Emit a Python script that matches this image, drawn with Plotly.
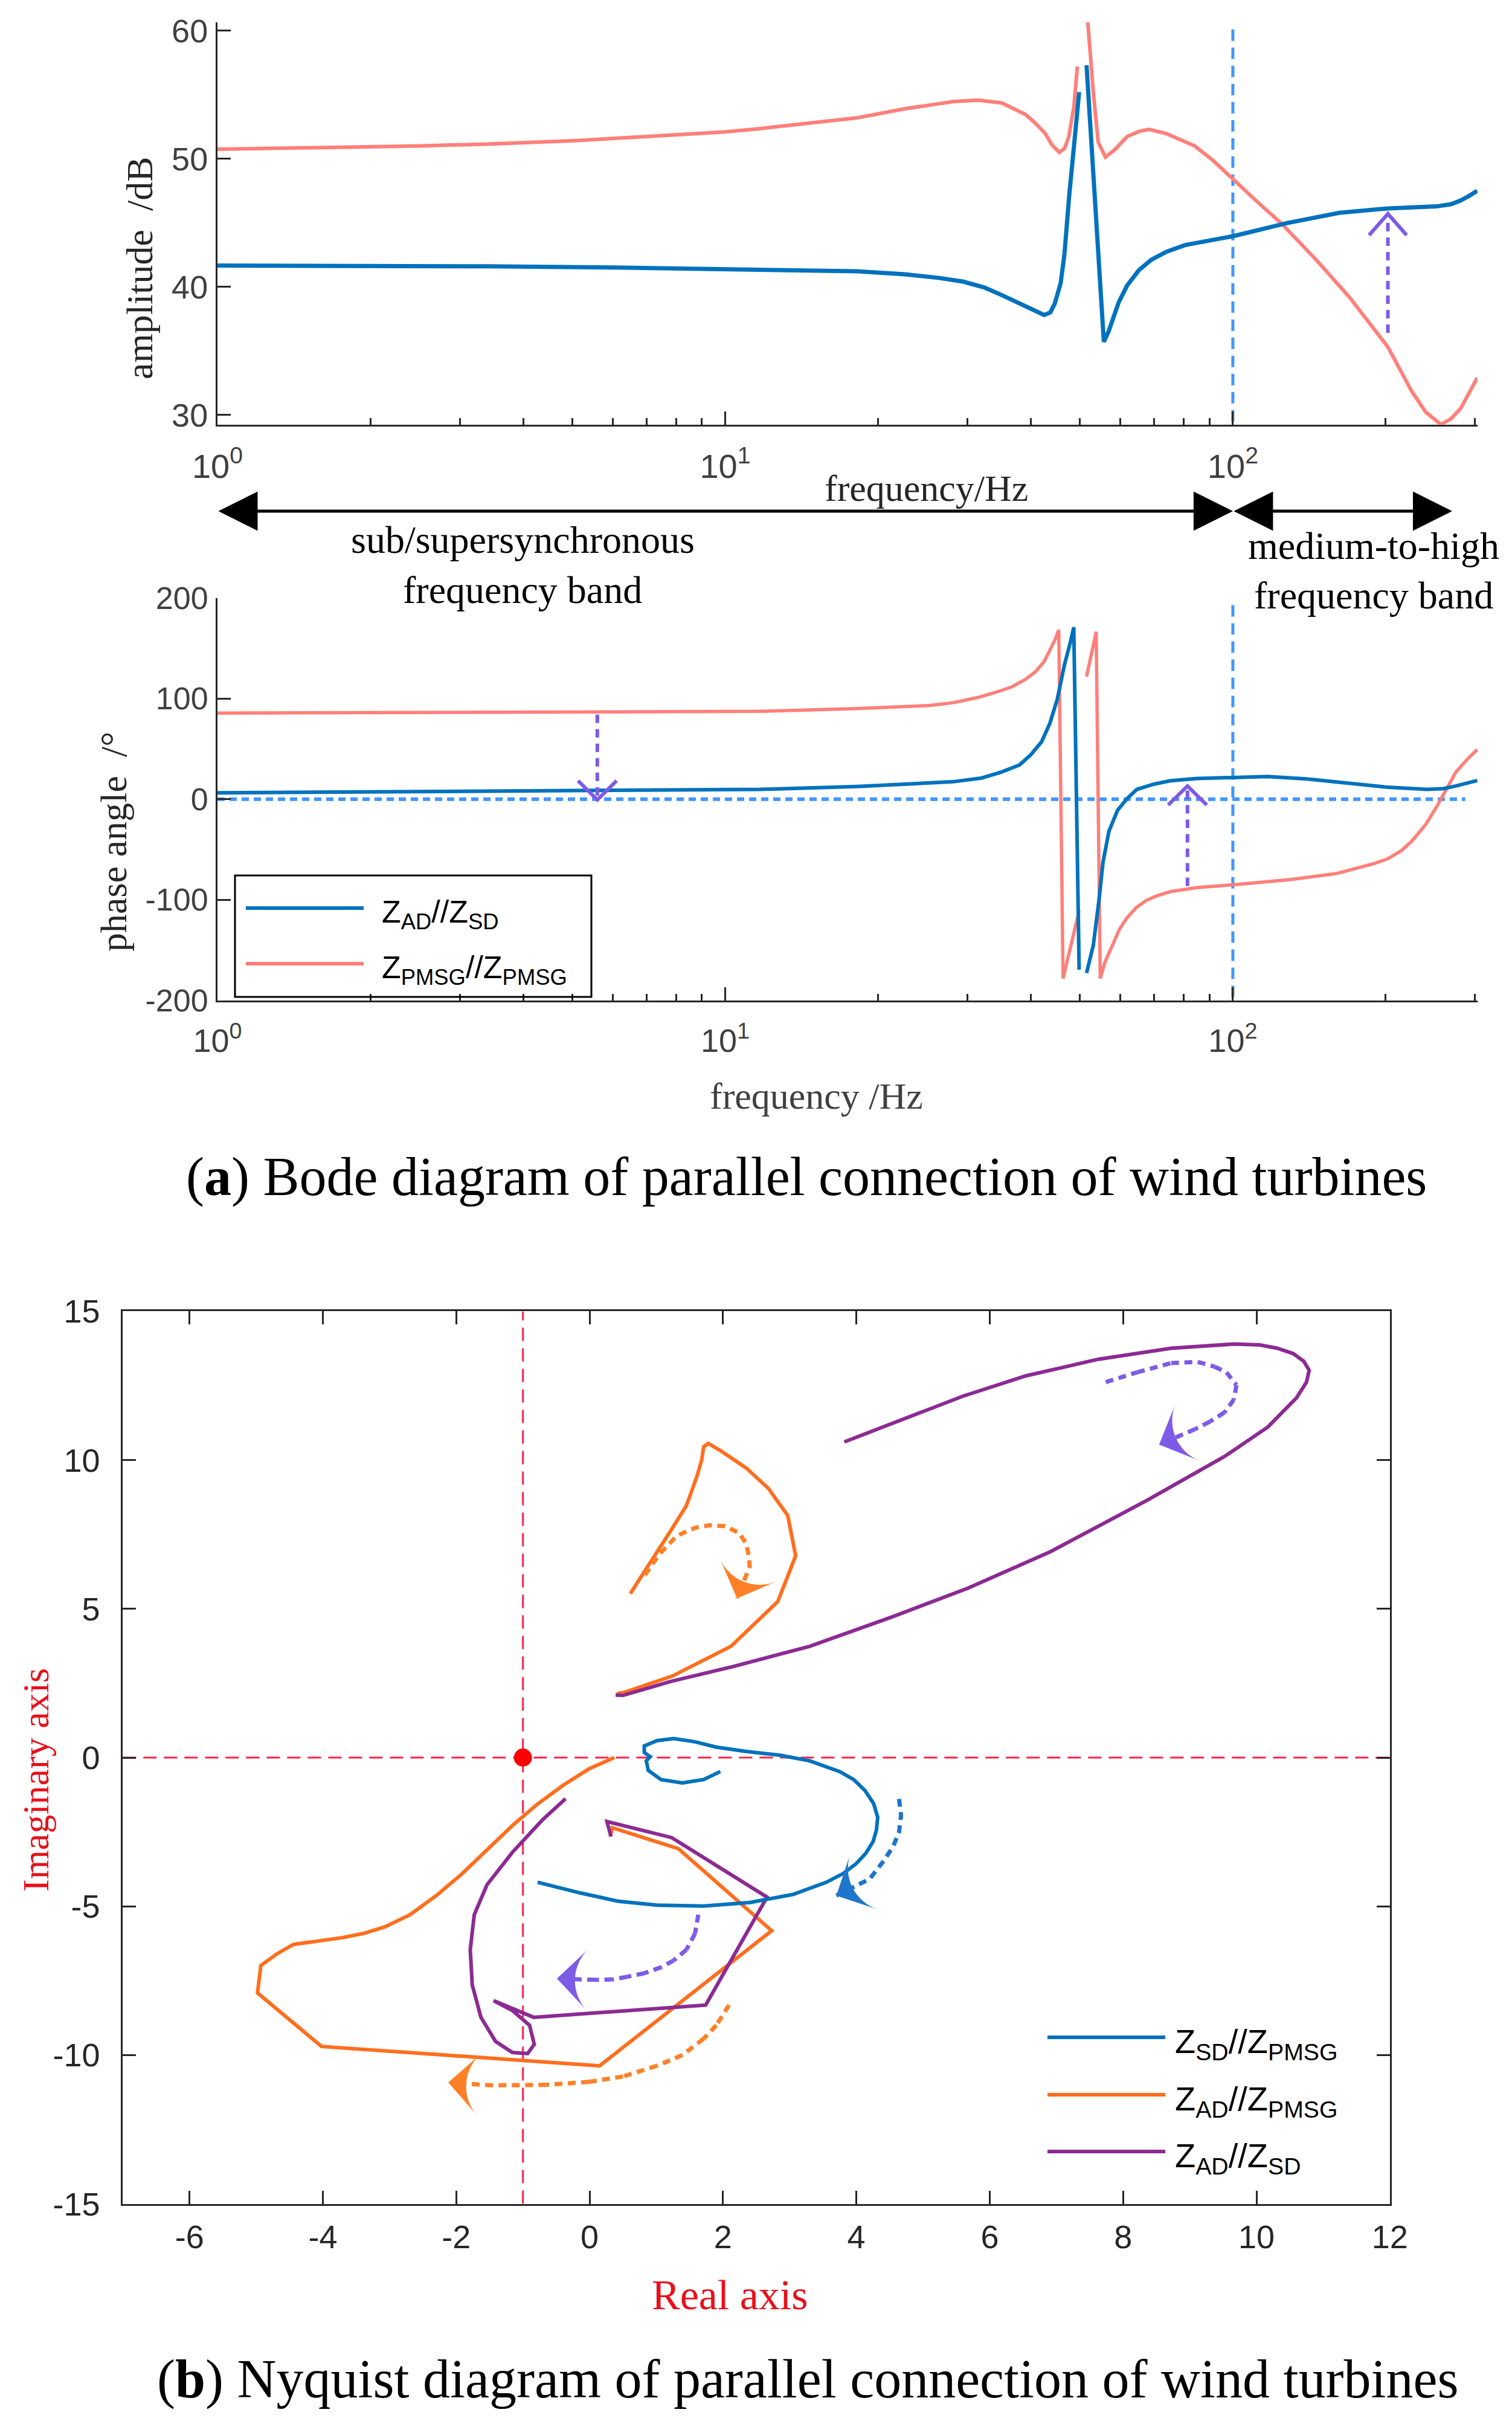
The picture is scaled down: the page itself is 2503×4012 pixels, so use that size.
import plotly.graph_objects as go

W, H = 2503, 4012
def px(x): return x / W
def py(y): return 1 - y / H

# ---------------- Bode magnitude data (Hz, dB) ----------------
mag_f_ad_sd = [1.0, 2.0, 3.39, 6.31, 11.7, 18.2, 22.6, 26.3, 29.4, 32.4, 35.0, 39.1, 42.5, 43.7, 44.6,
               45.8, 46.6, 47.6, 48.5, 49.8, None, 51.5, 53.7, 55.0, 55.7, 56.9, 57.9, 59.6, 61.9, 65.3,
               69.0, 74.1, 80.5, 100, 128, 162, 202, 252, 269, 281, 292, 303]
mag_db_ad_sd = [41.66, 41.65, 41.6, 41.5, 41.34, 41.21, 40.98, 40.7, 40.41, 39.95, 39.37, 38.47, 37.8, 38.0, 38.7,
                40.3, 42.6, 47.1, 50.6, 55.2, None, 57.3, 46.0, 39.0, 35.7, 36.5, 37.3, 38.8, 40.1, 41.3,
                42.1, 42.75, 43.26, 43.95, 44.98, 45.78, 46.12, 46.28, 46.45, 46.74, 47.1, 47.5]

mag_f_pmsg = [1.0, 1.585, 2.51, 3.39, 5.01, 7.08, 10.0, 11.7, 18.2, 22.6, 28.2, 31.5, 35.1, 39.1, 40.9,
              42.7, 44.1, 45.5, 46.6, 47.5, 48.6, 49.4, None, 51.6, 53.1, 54.3, 56.1, 58.5, 61.9, 65.5,
              68.4, 74.1, 84.1, 91.2, 100, 112, 125, 146, 170, 202, 225, 240, 257, 269, 281, 303]
mag_db_pmsg = [50.74, 50.85, 51.0, 51.15, 51.4, 51.75, 52.1, 52.35, 53.2, 53.9, 54.47, 54.58, 54.35, 53.44, 52.75,
               51.97, 51.04, 50.5, 50.8, 51.7, 54.0, 57.2, None, 61.5, 55.2, 51.3, 50.13, 50.7, 51.73, 52.15,
               52.3, 51.95, 51.0, 49.9, 48.4, 46.6, 44.9, 42.1, 39.15, 35.3, 31.85, 30.2, 29.25, 29.7, 30.5, 32.9]

# ---------------- Bode phase data (Hz, deg) ----------------
ph_f_ad_sd = [1.0, 3.16, 11.7, 18.2, 28.1, 32.0, 35.0, 38.0, 40.0, 42.0, 43.6, 45.1, 46.6, 47.8, 48.6, 49.8, None,
              51.5, 53.1, 54.5, 55.5, 57.0, 59.3, 62.0, 64.7, 70.0, 75.3, 85.0, 100, 117, 140, 162, 200, 241,
              260, 275, 303]
ph_deg_ad_sd = [6.25, 7.5, 9.7, 12.5, 17.3, 21.0, 26.9, 34.0, 44.1, 57.0, 75.2, 99.3, 133.8, 155.0, 171.0, -169.6, None,
                -173.0, -145.5, -100.0, -62.5, -32.0, -10.9, 1.0, 9.7, 15.0, 18.3, 20.5, 21.7, 22.4, 20.0, 16.7, 12.0,
                9.7, 10.5, 13.1, 18.5]

ph_f_pmsg = [1.0, 3.16, 10.0, 11.7, 18.2, 25.2, 28.2, 31.4, 34.0, 36.6, 39.0, 40.9, 42.5, 43.6, 44.6, 45.4,
             46.3, 49.8, None,
             51.5, 53.8, 54.8, 56.0, 57.9, 59.7, 61.9, 64.5, 67.6, 71.0, 75.3, 85.0, 100, 130, 160, 173, 190,
             202, 215, 225, 240, 252, 263, 275, 290, 303]
ph_deg_pmsg = [85.5, 86.0, 87.0, 87.3, 90.0, 93.1, 96.0, 101.0, 106.0, 111.4, 119.0, 126.9, 137.0, 147.6, 158.0,
               168.3, -178.3, -111.0, None,
               121.8, 166.5, -178.3, -162.0, -145.5, -130.0, -117.8, -108.0, -100.6, -96.0, -92.0, -88.0, -85.2,
               -80.0, -74.0, -69.6, -64.0, -59.3, -51.0, -42.0, -25.0, -7.6, 10.0, 26.9, 40.0, 49.3]

# reference lines / arrows in Bode plots
f_split = 100                     # boundary between the two bands (Hz)
mag_vline_db = [60.1, 29.25]
ph_vline_deg = [193, -200]
ph_zero_f = [1.0, 287]
mag_arrow = dict(f=202, y_from=36.4, y_to=45.7)
ph_arrow_down = dict(f=5.6, y_from=84, y_to=-0.7)
ph_arrow_up = dict(f=81.4, y_from=-86.5, y_to=13.1)

# ---------------- Nyquist data ----------------
nyq_sd_pmsg_re = [1.96, 1.71, 1.39, 1.07, 0.88, 0.85, 0.91, 0.82, 0.82, 1.01, 1.26, 1.58, 1.90, 2.34, 2.85,
                  3.30, 3.75, 3.96, 4.13, 4.26, 4.32, 4.30, 4.25, 4.14, 4.00, 3.80, 3.55, 3.05, 2.41, 1.71,
                  1.01, 0.43, -0.14, -0.78]
nyq_sd_pmsg_im = [-0.47, -0.74, -0.85, -0.74, -0.43, -0.11, 0.03, 0.17, 0.39, 0.57, 0.64, 0.53, 0.35, 0.21, 0.08,
                  -0.11, -0.47, -0.74, -1.11, -1.55, -2.01, -2.45, -2.83, -3.22, -3.56, -3.90, -4.19, -4.60,
                  -4.87, -4.99, -4.96, -4.83, -4.55, -4.19]

nyq_ad_pmsg_re = [0.61, 0.94, 1.22, 1.45, 1.61, 1.68, 1.71, 1.78, 1.96, 2.35, 2.68, 2.97, 3.09, 2.82, 2.12,
                  1.24, 0.53, 0.41, None,
                  0.37, -0.01, -0.39, -0.78, -1.16, -1.54, -1.92, -2.30, -2.69, -3.07, -3.39, -3.70, -4.15,
                  -4.44, -4.69, -4.93, -4.98, -4.02, 0.15, 2.73, 1.33, 0.34, 0.31]
nyq_ad_pmsg_im = [5.51, 6.64, 7.64, 8.46, 9.46, 10.0, 10.45, 10.56, 10.32, 9.73, 9.05, 8.14, 6.78, 5.24, 3.74,
                  2.74, 2.20, 2.15, None,
                  0.0, -0.38, -0.92, -1.56, -2.29, -3.10, -3.92, -4.64, -5.28, -5.69, -5.91, -6.05, -6.19,
                  -6.28, -6.60, -6.99, -7.91, -9.71, -10.36, -5.82, -3.06, -2.36, -2.65]

nyq_ad_sd_re = [3.82, 4.73, 5.60, 6.54, 7.63, 8.72, 9.66, 10.05, 10.31, 10.55, 10.71, 10.79, 10.75, 10.60, 10.17,
                9.52, 8.36, 6.91, 5.67, 4.55, 3.30, 2.15, 1.22, 0.50, 0.39, None,
                -0.36, -0.71, -1.16, -1.54, -1.73, -1.79, -1.76, -1.63, -1.41, -1.16, -0.93, -0.83, -0.90,
                -1.16, -1.44, -0.84, 1.74, 2.66, 1.23, 0.26, 0.32]
nyq_ad_sd_im = [10.61, 11.41, 12.15, 12.83, 13.39, 13.76, 13.90, 13.87, 13.76, 13.58, 13.32, 13.02, 12.62, 12.09, 11.11,
                10.12, 8.65, 6.92, 5.69, 4.74, 3.74, 3.06, 2.56, 2.09, 2.10, None,
                -1.38, -2.10, -3.19, -4.28, -5.28, -6.46, -7.64, -8.73, -9.54, -9.91, -9.95, -9.64, -9.00,
                -8.50, -8.17, -8.73, -8.32, -4.69, -2.69, -2.15, -2.65]

# direction arrows (dotted path, last point = arrow tip)
arr_or_up_re = [0.83, 1.04, 1.31, 1.59, 1.80, 2.03, 2.24, 2.35, 2.39, 2.40, 2.21]
arr_or_up_im = [6.14, 6.82, 7.46, 7.73, 7.81, 7.78, 7.55, 7.19, 6.73, 6.42, 5.35]
arr_pu_up_re = [7.74, 8.21, 8.72, 9.12, 9.37, 9.55, 9.70, 9.66, 9.52, 9.30, 9.08, 8.54]
arr_pu_up_im = [12.62, 12.95, 13.26, 13.30, 13.14, 12.95, 12.52, 12.03, 11.60, 11.29, 11.04, 10.52]
arr_bl_re = [4.64, 4.67, 4.64, 4.55, 4.40, 4.20, 3.70]
arr_bl_im = [-1.39, -1.95, -2.50, -3.00, -3.50, -4.08, -4.64]
arr_pu_lo_re = [1.63, 1.58, 1.45, 1.26, 1.07, 0.82, 0.56, 0.34, 0.08, -0.49]
arr_pu_lo_im = [-5.28, -5.92, -6.46, -6.82, -7.05, -7.25, -7.37, -7.46, -7.47, -7.43]
arr_or_lo_re = [2.09, 1.90, 1.71, 1.39, 1.01, 0.50, -0.01, -0.65, -1.45, -2.12]
arr_or_lo_im = [-8.32, -9.0, -9.45, -10.0, -10.36, -10.72, -10.9, -11.0, -11.02, -10.92]

critical_re, critical_im = [-1], [0]

mag_ticks = [30, 40, 50, 60]
mag_ticktext = ["30", "40", "50", "60"]
ph_ticks = [-200, -100, 0, 100, 200]
ph_ticktext = ["-200", "-100", "0", "100", "200"]
f_major = [1, 10, 100]
f_major_text = ["10<sup>0</sup>", "10<sup>1</sup>", "10<sup>2</sup>"]
f_minor = [2, 3, 4, 5, 6, 7, 8, 9, 20, 30, 40, 50, 60, 70, 80, 90, 200, 300]
nyq_xticks = [-6, -4, -2, 0, 2, 4, 6, 8, 10, 12]
nyq_xticktext = ["-6", "-4", "-2", "0", "2", "4", "6", "8", "10", "12"]
nyq_yticks = [-15, -10, -5, 0, 5, 10, 15]
nyq_yticktext = ["-15", "-10", "-5", "0", "5", "10", "15"]

# ---------------- styles ----------------
SERIF = "Liberation Serif, Times New Roman, serif"
SANS = "Liberation Sans, Arial, sans-serif"
AX = "#262626"
GRAY = "#404040"
BLUE = "#0072BD"
SALMON = "#FF7F7A"
LBLUE = "#4096FF"
VIOLET = "#7D5BE6"
ORANGE = "#FF6E1E"
PURPLE = "#8C2A93"
ORANGE_L = "#FF8026"
BLUE_D = "#1F74CC"
REDL = "#FF2248"
RED = "#E8101A"

fig = go.Figure()

def add(tr, xa, ya):
    tr.update(xaxis=xa, yaxis=ya, showlegend=False, hoverinfo="skip")
    fig.add_trace(tr)

# ---- magnitude plot ----
add(go.Scatter(x=[f_split, f_split], y=mag_vline_db, mode="lines",
               line=dict(color=LBLUE, width=5, dash="19px,11px")), "x", "y")
add(go.Scatter(x=mag_f_pmsg, y=mag_db_pmsg, mode="lines", connectgaps=False,
               line=dict(color=SALMON, width=6)), "x", "y")
add(go.Scatter(x=mag_f_ad_sd, y=mag_db_ad_sd, mode="lines", connectgaps=False,
               line=dict(color=BLUE, width=7)), "x", "y")

def chevron(a, xa, ya, dlog, dy):
    f = a["f"]; tip = a["y_to"]
    sgn = 1 if a["y_to"] > a["y_from"] else -1
    add(go.Scatter(x=[f, f], y=[a["y_from"], tip], mode="lines",
                   line=dict(color=VIOLET, width=6, dash="14px,10px")), xa, ya)
    add(go.Scatter(x=[f * 10 ** (-dlog), f, f * 10 ** dlog],
                   y=[tip - sgn * dy, tip, tip - sgn * dy], mode="lines",
                   line=dict(color=VIOLET, width=6)), xa, ya)

chevron(mag_arrow, "x", "y", 0.037, 1.67)

# ---- phase plot ----
add(go.Scatter(x=ph_zero_f, y=[0, 0], mode="lines",
               line=dict(color=LBLUE, width=6, dash="12px,8px")), "x2", "y2")
add(go.Scatter(x=[f_split, f_split], y=ph_vline_deg, mode="lines",
               line=dict(color=LBLUE, width=5, dash="19px,11px")), "x2", "y2")
add(go.Scatter(x=ph_f_pmsg, y=ph_deg_pmsg, mode="lines", connectgaps=False,
               line=dict(color=SALMON, width=5.5)), "x2", "y2")
add(go.Scatter(x=ph_f_ad_sd, y=ph_deg_ad_sd, mode="lines", connectgaps=False,
               line=dict(color=BLUE, width=6)), "x2", "y2")
chevron(ph_arrow_down, "x2", "y2", 0.038, 19)
chevron(ph_arrow_up, "x2", "y2", 0.038, 19)

# ---- Nyquist ----
add(go.Scatter(x=[-1, -1], y=[-15, 15], mode="lines",
               line=dict(color=REDL, width=3, dash="22px,12px")), "x3", "y3")
add(go.Scatter(x=[-7, 12], y=[0, 0], mode="lines",
               line=dict(color=REDL, width=3, dash="22px,12px")), "x3", "y3")
add(go.Scatter(x=nyq_ad_pmsg_re, y=nyq_ad_pmsg_im, mode="lines", connectgaps=False,
               line=dict(color=ORANGE, width=6)), "x3", "y3")
add(go.Scatter(x=nyq_ad_sd_re, y=nyq_ad_sd_im, mode="lines", connectgaps=False,
               line=dict(color=PURPLE, width=6)), "x3", "y3")
add(go.Scatter(x=nyq_sd_pmsg_re, y=nyq_sd_pmsg_im, mode="lines",
               line=dict(color=BLUE, width=6)), "x3", "y3")
add(go.Scatter(x=critical_re, y=critical_im, mode="markers",
               marker=dict(color="#FF0000", size=30, line=dict(width=0))), "x3", "y3")

def dotted_arrow(xs, ys, color):
    n = len(xs)
    add(go.Scatter(x=xs, y=ys, mode="lines+markers",
                   line=dict(color=color, width=7, dash="13px,9px"),
                   marker=dict(symbol="arrow-wide", angleref="previous", opacity=1,
                               size=[0] * (n - 1) + [72], color=color, line=dict(width=0))),
        "x3", "y3")

dotted_arrow(arr_or_up_re, arr_or_up_im, ORANGE_L)
dotted_arrow(arr_pu_up_re, arr_pu_up_im, VIOLET)
dotted_arrow(arr_bl_re, arr_bl_im, BLUE_D)
dotted_arrow(arr_pu_lo_re, arr_pu_lo_im, VIOLET)
dotted_arrow(arr_or_lo_re, arr_or_lo_im, ORANGE_L)

# ---------------- axes ----------------
def log_x(domain, anchor, fsize, standoff):
    return dict(domain=domain, anchor=anchor, type="log", range=[0, 2.482], automargin=False,
                showline=True, linecolor=AX, linewidth=3, mirror=False,
                ticks="inside", ticklen=22, tickwidth=3, tickcolor=AX,
                tickmode="array", tickvals=f_major, ticktext=f_major_text,
                tickfont=dict(family=SANS, size=fsize, color=GRAY),
                ticklabelstandoff=standoff, showgrid=False, zeroline=False,
                minor=dict(tickmode="array", tickvals=f_minor, ticks="inside",
                           ticklen=11, tickwidth=3, tickcolor=AX, showgrid=False))

def lin_y(domain, anchor, rng, vals, texts, fsize):
    return dict(domain=domain, anchor=anchor, range=rng, automargin=False, showline=True,
                linecolor=AX, linewidth=3, ticks="inside", ticklen=22, tickwidth=3, tickcolor=AX,
                tickmode="array", tickvals=vals, ticktext=texts,
                tickfont=dict(family=SANS, size=fsize, color=GRAY),
                ticklabelstandoff=2, showgrid=False, zeroline=False)

fig.update_layout(
    width=W, height=H, margin=dict(l=0, r=0, t=0, b=0, autoexpand=False),
    paper_bgcolor="white", plot_bgcolor="white", showlegend=False,
    xaxis=log_x([px(352), px(2438)], "y", 56, 18),
    yaxis=lin_y([py(694.6), py(29)], "x", [29.25, 60.65], mag_ticks, mag_ticktext, 54),
    xaxis2=log_x([px(352), px(2438)], "y2", 54, 18),
    yaxis2=lin_y([py(1647.5), py(981.8)], "x2", [-200, 200], ph_ticks, ph_ticktext, 52),
    xaxis3=dict(domain=[px(195.3), px(2292.8)], anchor="y3", range=[-7, 12], automargin=False,
                showline=True, linecolor=AX, linewidth=3, mirror="ticks",
                ticks="inside", ticklen=22, tickwidth=3, tickcolor=AX,
                tickmode="array", tickvals=nyq_xticks, ticktext=nyq_xticktext,
                tickfont=dict(family=SANS, size=54, color=AX), ticklabelstandoff=6,
                showgrid=False, zeroline=False),
    yaxis3=dict(domain=[py(3639.6), py(2162.4)], anchor="x3", range=[-15, 15], automargin=False,
                showline=True, linecolor=AX, linewidth=3, mirror="ticks",
                ticks="inside", ticklen=22, tickwidth=3, tickcolor=AX,
                tickmode="array", tickvals=nyq_yticks, ticktext=nyq_yticktext,
                tickfont=dict(family=SANS, size=54, color=AX), ticklabelstandoff=24,
                showgrid=False, zeroline=False),
)

# ---------------- text annotations ----------------
ann = []
def text(x, y, s, size, color="#000000", family=SERIF, angle=0, xanchor="center"):
    ann.append(dict(x=px(x), y=py(y), xref="paper", yref="paper", text=s, showarrow=False,
                    textangle=angle, xanchor=xanchor, yanchor="middle",
                    font=dict(family=family, size=size, color=color)))

text(223, 436, "amplitude  /dB", 62, AX, angle=-90)
text(1525, 800, "frequency/Hz", 62, AX)
text(857, 885, "sub/supersynchronous", 64)
text(857, 968, "frequency band", 64)
text(2266, 895, "medium-to-high", 64)
text(2266, 977, "frequency band", 64)
text(180, 1385, "phase angle  /°", 62, AX, angle=-90)
text(1343, 1806, "frequency /Hz", 62, GRAY)
text(1327, 1940, "(<b>a</b>) Bode diagram of parallel connection of wind turbines", 90)
text(51, 2938, "Imaginary axis", 62, RED, angle=-90)
text(1200, 3790, "Real axis", 70, RED)
text(1329, 3930, "(<b>b</b>) Nyquist diagram of parallel connection of wind turbines", 90)

# legend texts
text(622, 1505, "Z<sub>AD</sub>//Z<sub>SD</sub>", 52, "#000000", SANS, xanchor="left")
text(622, 1597, "Z<sub>PMSG</sub>//Z<sub>PMSG</sub>", 52, "#000000", SANS, xanchor="left")
text(1935, 3374, "Z<sub>SD</sub>//Z<sub>PMSG</sub>", 56, "#000000", SANS, xanchor="left")
text(1935, 3469, "Z<sub>AD</sub>//Z<sub>PMSG</sub>", 56, "#000000", SANS, xanchor="left")
text(1935, 3563, "Z<sub>AD</sub>//Z<sub>SD</sub>", 56, "#000000", SANS, xanchor="left")

# frequency-band double arrows (in log-frequency coordinates of the top axis)
for x0, x1 in [(0.0, 2.0), (2.0, 2.432)]:
    ann.append(dict(x=x1, y=py(838), xref="x", yref="paper", ax=x0, ay=0, axref="x", ayref="pixel",
                    text="", showarrow=True, arrowhead=2, startarrowhead=2, arrowside="end+start",
                    arrowsize=2.6, startarrowsize=2.6, arrowwidth=5, arrowcolor="#000000"))

fig.update_layout(annotations=ann)

# ---------------- legend frames / samples ----------------
shapes = [
    dict(type="rect", xref="paper", yref="paper", x0=px(381), x1=px(971), y0=py(1642), y1=py(1441),
         line=dict(color="#000000", width=3), fillcolor="rgba(0,0,0,0)"),
]
for y, c in [(1495, BLUE), (1587, SALMON)]:
    shapes.append(dict(type="line", xref="paper", yref="paper", x0=px(399), x1=px(594), y0=py(y), y1=py(y),
                       line=dict(color=c, width=6)))
for y, c in [(3364, BLUE), (3459, ORANGE), (3553, PURPLE)]:
    shapes.append(dict(type="line", xref="paper", yref="paper", x0=px(1726), x1=px(1921), y0=py(y), y1=py(y),
                       line=dict(color=c, width=6)))
fig.update_layout(shapes=shapes)

fig.write_html("out.html")
